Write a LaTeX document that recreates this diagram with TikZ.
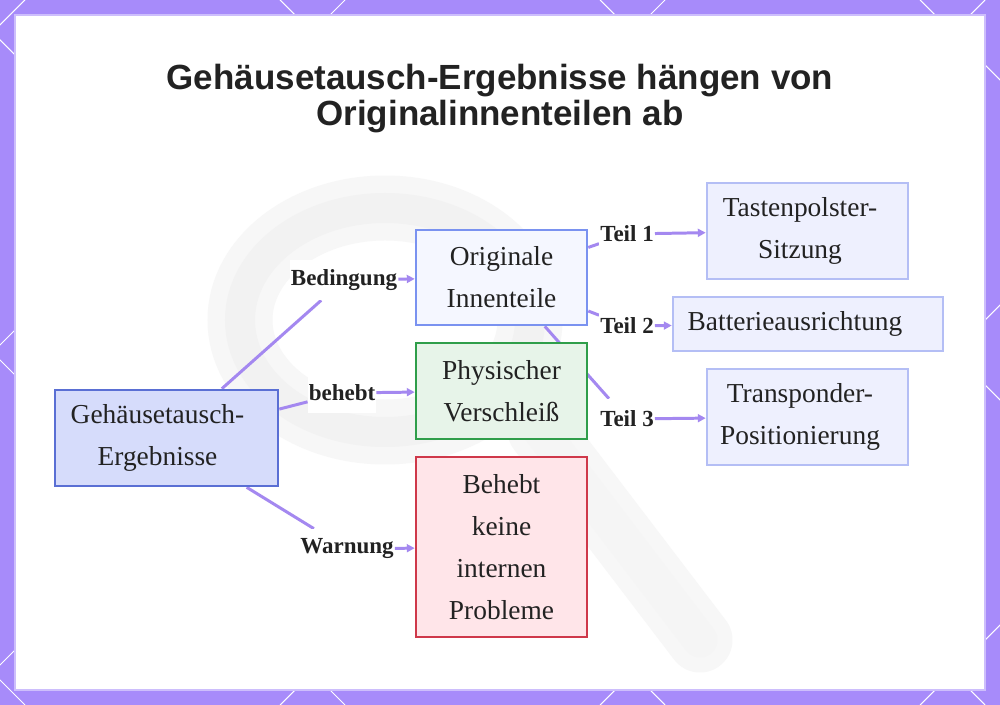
\documentclass[tikz,border=0pt]{standalone}
\usepackage{fontspec}
\setmainfont{Liberation Serif}
\newfontfamily\titlefont{Liberation Sans}
\usetikzlibrary{arrows.meta,positioning}
\definecolor{FramePurple}{RGB}{167,139,250}
\definecolor{LinkPurple}{RGB}{164,136,240}
\definecolor{CardEdge}{RGB}{205,190,252}
\definecolor{InkDark}{RGB}{34,34,34}
\definecolor{RootFill}{RGB}{214,220,251}
\definecolor{RootDraw}{RGB}{90,111,212}
\definecolor{OrigFill}{RGB}{245,247,255}
\definecolor{OrigDraw}{RGB}{122,146,240}
\definecolor{WearFill}{RGB}{231,244,233}
\definecolor{WearDraw}{RGB}{47,158,74}
\definecolor{WarnFill}{RGB}{255,229,233}
\definecolor{WarnDraw}{RGB}{207,56,74}
\definecolor{LeafFill}{RGB}{238,240,254}
\definecolor{LeafDraw}{RGB}{180,190,245}
\pgfdeclarelayer{back}
\pgfdeclarelayer{edges}
\pgfsetlayers{back,edges,main}
% pushes a centred line a little to the left
\newcommand{\nudge}[1]{\hspace*{#1}}
\tikzset{
  box/.style={draw,line width=1.5pt,align=center,text=InkDark,
    font=\fontsize{15.6pt}{23.8pt}\selectfont,inner sep=0pt},
  rootbox/.style={box,fill=RootFill,draw=RootDraw,minimum width=4.46cm,minimum height=1.92cm},
  origbox/.style={box,fill=OrigFill,draw=OrigDraw,minimum width=3.42cm,minimum height=1.9cm},
  wearbox/.style={box,fill=WearFill,draw=WearDraw,minimum width=3.42cm,minimum height=1.92cm},
  warnbox/.style={box,fill=WarnFill,draw=WarnDraw,minimum width=3.42cm,minimum height=3.6cm},
  leafbox/.style={box,fill=LeafFill,draw=LeafDraw,minimum width=4.02cm,minimum height=1.92cm},
  tag/.style={fill=white,text=InkDark,inner xsep=0.5pt,inner ysep=0pt,minimum height=0.8cm,
    font=\fontsize{13.1pt}{14pt}\selectfont\bfseries},
  link/.style={LinkPurple,line width=1.7pt},
  flow/.style={link,-{Triangle[length=4.5pt,width=4.5pt]}}
}

\begin{document}
\begin{tikzpicture}[x=0.02cm,y=-0.02cm]
  \useasboundingbox (0,0) rectangle (1000,705);
  \begin{pgfonlayer}{back}
    % frame with lattice
    \fill[FramePurple] (0,0) rectangle (1000,705);
    \begin{scope}
      \clip (0,0) rectangle (1000,705);
      \foreach \c in {-295,25,...,1625}
        \draw[white,line width=0.6pt] (\c,0) -- ({\c-705},705);
      \foreach \d in {-680,-360,...,1240}
        \draw[white,line width=0.6pt] (\d,0) -- ({\d+705},705);
    \end{scope}
    \fill[white,draw=CardEdge,line width=0.6pt] (15,15) rectangle (985,690);
    % faint key behind the chart
    \draw[black!3,line width=1.3cm] (385,320) ellipse [x radius=145,y radius=112];
    \draw[black!5,line width=0.6cm] (385,320) ellipse [x radius=145,y radius=112];
    \draw[black!3,line width=1.3cm,line cap=round] (540,430) -- (700,640);
    \draw[black!4,line width=0.7cm,line cap=round] (540,430) -- (700,640);
  \end{pgfonlayer}

  \node[font=\titlefont\fontsize{19.9pt}{20.5pt}\selectfont\bfseries,text=InkDark,align=center]
    (title) at (500,99) {Gehäusetausch-Ergebnisse hängen von\\Originalinnenteilen ab};

  \node[rootbox] (root) at (166.5,438) {Gehäusetausch-\nudge{0.36cm}\\Ergebnisse\nudge{0.36cm}};
  \node[origbox] (orig) at (501.5,277.5) {Originale\\Innenteile};
  \node[wearbox] (wear) at (501.5,391) {Physischer\\Verschleiß};
  \node[warnbox] (warn) at (501.5,547) {Behebt\\keine\\internen\\Probleme};
  \node[leafbox] (keypad) at (807.5,231) {Tastenpolster-\nudge{0.3cm}\\Sitzung\nudge{0.3cm}};
  \node[leafbox,minimum width=5.4cm,minimum height=1.08cm] (battery) at (808,324) {Batterieausrichtung\nudge{0.52cm}};
  \node[leafbox] (transp) at (807.5,417) {Transponder-\nudge{0.3cm}\\Positionierung\nudge{0.3cm}};

  \node[tag] (tcond) at (344,280) {Bedingung};
  \node[tag] (tfix) at (342,393) {behebt};
  \node[tag] (twarn) at (347,549) {Warnung};
  \node[tag] (tone) at (627,234) {Teil 1};
  \node[tag] (ttwo) at (627,326) {Teil 2};
  \node[tag] (tthree) at (627,419) {Teil 3};

  \begin{pgfonlayer}{edges}
    \draw[link] (root) -- (tcond);
    \draw[link] (root) -- (tfix);
    \draw[link] (root) -- (twarn);
    \draw[link] (orig) -- (tone);
    \draw[link] (orig) -- (ttwo);
    \draw[link] (orig) -- (tthree);
  \end{pgfonlayer}
  \draw[flow] (tcond) -- (orig);
  \draw[flow] (tfix) -- (wear);
  \draw[flow] (twarn) -- (warn);
  \draw[flow] (tone) -- (keypad);
  \draw[flow] (ttwo) -- (battery);
  \draw[flow] (tthree) -- (transp);
\end{tikzpicture}
\end{document}
